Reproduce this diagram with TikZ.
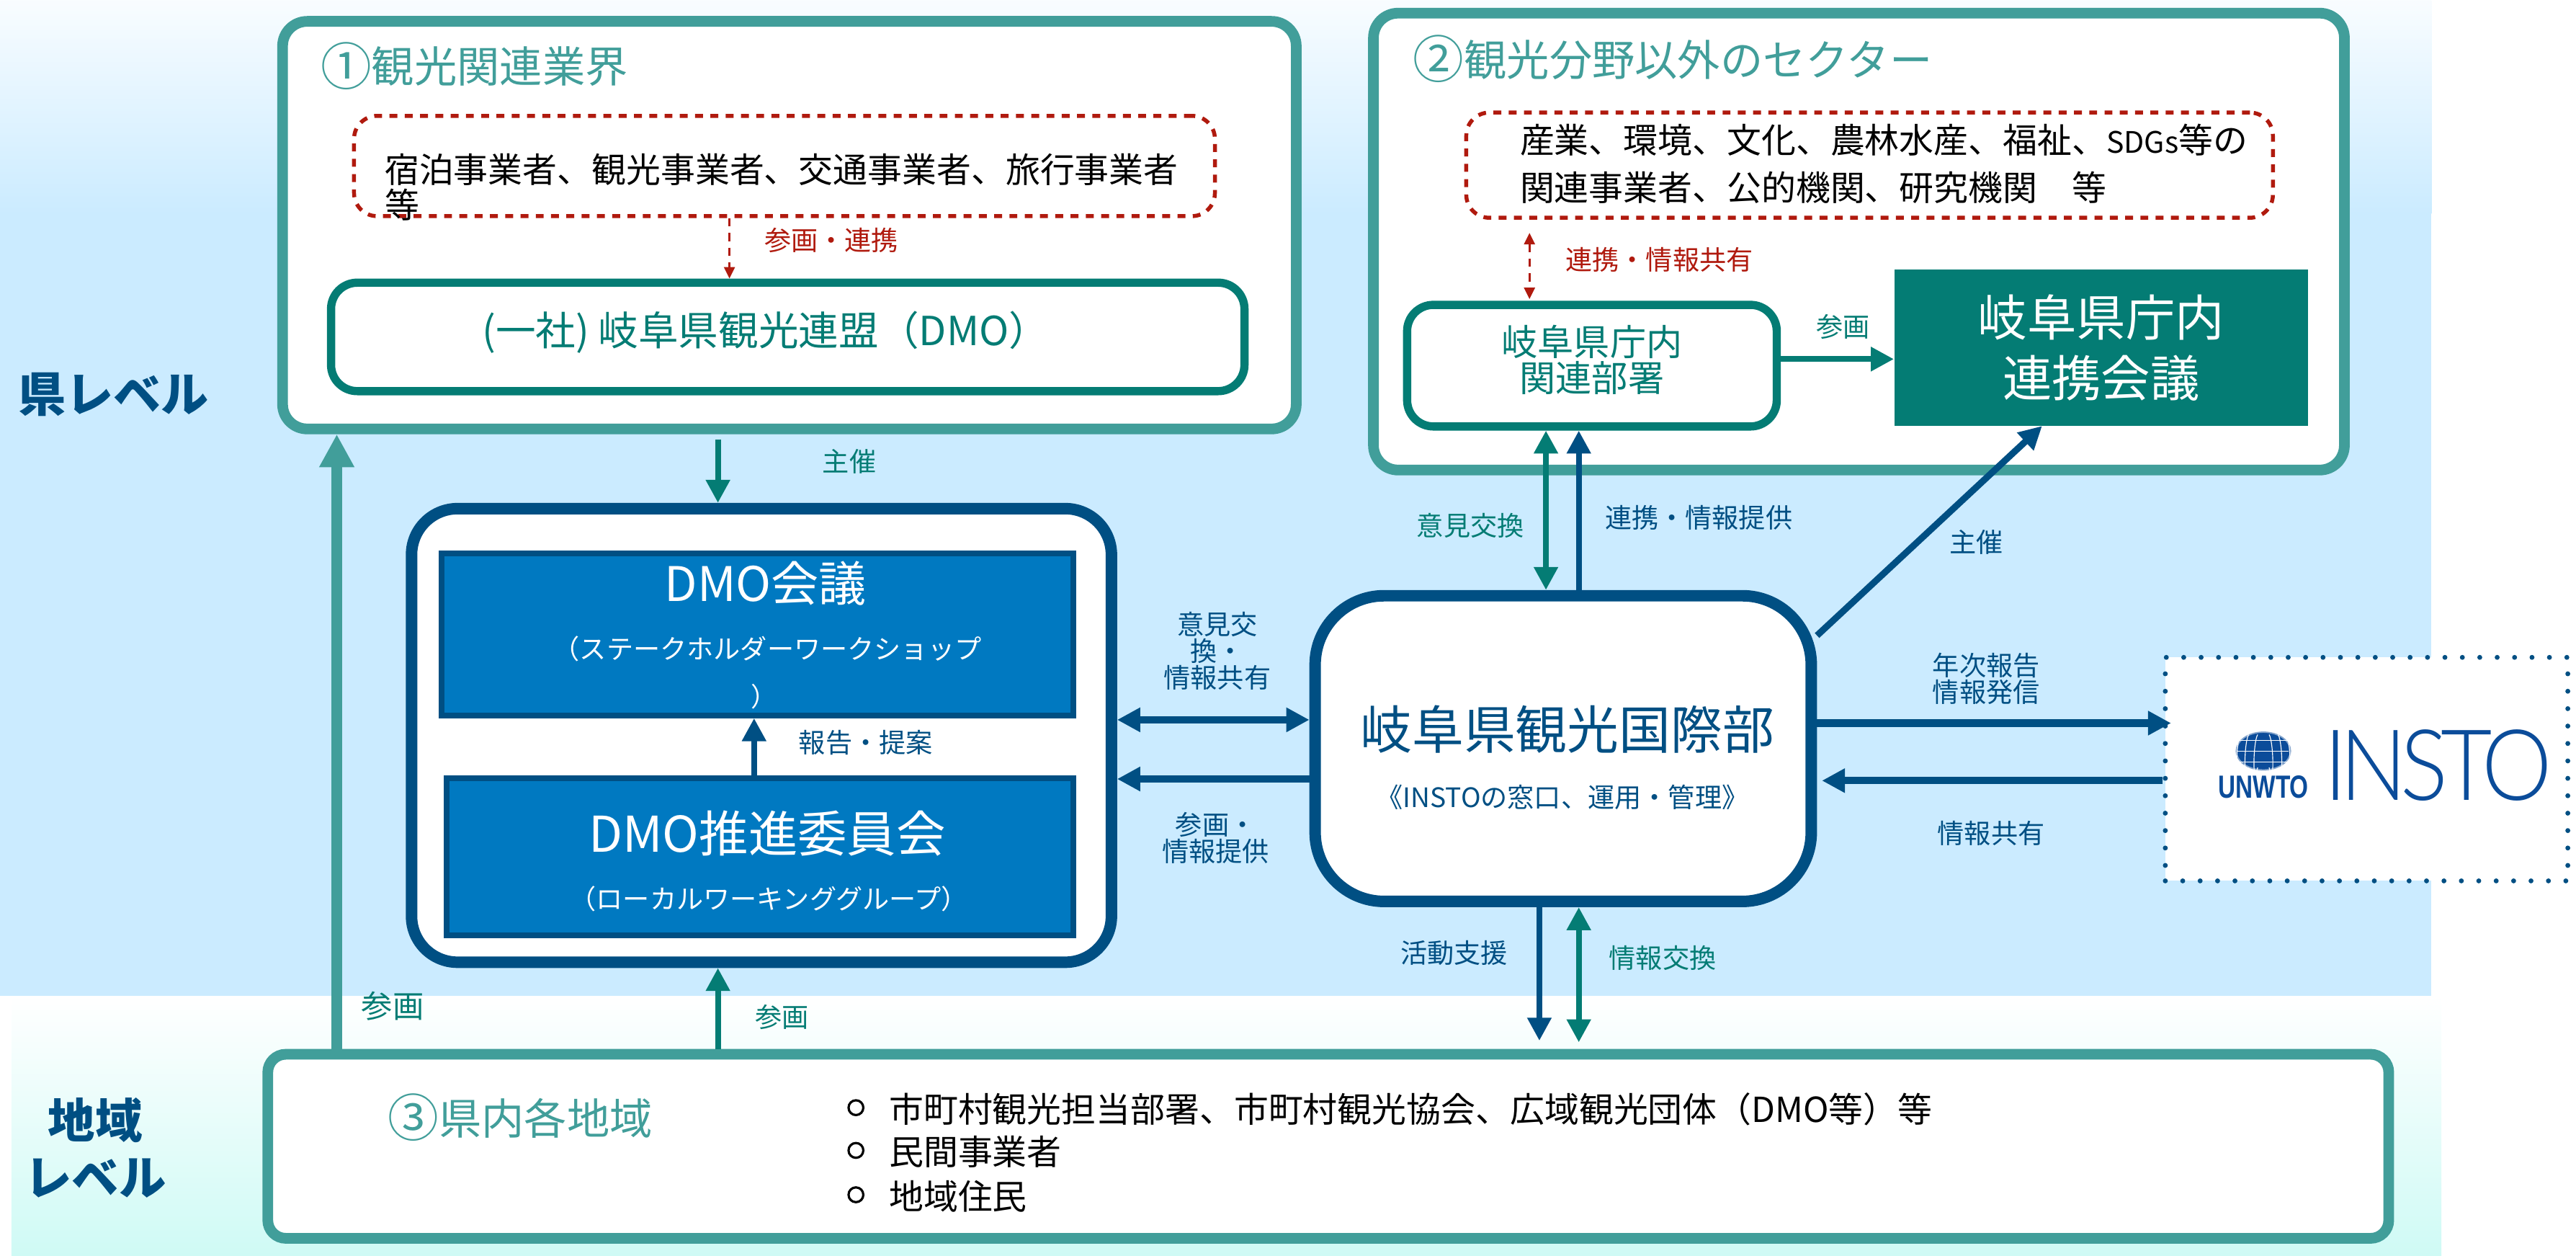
\documentclass[tikz,border=0pt]{standalone}
\usepackage{fontspec}
\setmainfont{Noto Sans CJK JP}
\newfontfamily\logofont{Liberation Sans}
\newfontfamily\thinfont{Lato Light}
\usetikzlibrary{arrows.meta,shapes.geometric}
\definecolor{bandblue}{HTML}{CBEBFF}
\definecolor{bandmint}{HTML}{CFFAF5}
\definecolor{softteal}{HTML}{419E9A}
\definecolor{deepteal}{HTML}{047C74}
\definecolor{navy}{HTML}{004F83}
\definecolor{midblue}{HTML}{0079C1}
\definecolor{darkred}{HTML}{B01A0E}
\definecolor{logoblue}{HTML}{0B4C9A}
\newcommand{\sized}[1]{\fontsize{#1}{#1}\selectfont}
\newcommand{\ringed}[1]{\raisebox{-1.5pt}{\sized{31}#1}}
\tikzset{
  panel/.style={draw=softteal,fill=white,line width=6.5pt,rounded corners=15pt},
  teambox/.style={draw=deepteal,fill=white,line width=5pt,rounded corners=16pt,text=deepteal,align=center},
  hostbox/.style={draw=navy,fill=white,line width=7pt},
  meetbox/.style={draw=navy,fill=midblue,line width=3.5pt},
  partybox/.style={draw=darkred,line width=2.4pt,dash pattern=on 4.8pt off 4.5pt,rounded corners=14pt},
  txt/.style={inner sep=0pt,align=center},
  lbl/.style={txt,font=\sized{16.3}},
  flow/.style={line width=3.6pt,-{Triangle[length=14pt,width=14pt]}},
  bothflow/.style={line width=3.6pt,{Triangle[length=14pt,width=14pt]}-{Triangle[length=14pt,width=14pt]}},
  redflow/.style={draw=darkred,line width=1.4pt,dash pattern=on 5pt off 4pt,-{Triangle[length=7pt,width=6.5pt]}}
}
\begin{document}
\begin{tikzpicture}[x=1pt,y=-1pt]
\useasboundingbox (0,0) rectangle (1568,764);
\shade[top color=bandblue!12!white,bottom color=bandblue] (0,0) rectangle (1480,130);
\fill[bandblue] (0,129.5) rectangle (1480,606);
\shade[top color=white,bottom color=bandmint] (7,606) rectangle (1486,764);

\node[txt,text=navy,font=\bfseries\sized{29}] (prefname) at (69,240) {県レベル};
\node[txt,text=navy,font=\bfseries\sized{28.7}] (areaname) at (58,698.5) {地域\\[6pt]レベル};

\node[panel,minimum width=617,minimum height=248] (tourism) at (480.5,137) {};
\node[txt,anchor=west,text=softteal,font=\sized{26}] (tourismtitle) at (195,40) {\ringed{①}観光関連業界};
\node[partybox,minimum width=524,minimum height=61] (lodging) at (477.5,101) {};
\node[txt,anchor=west,font=\sized{21}] (lodgingtext) at (234,103) {宿泊事業者、観光事業者、交通事業者、旅行事業者};
\node[txt,anchor=west,font=\sized{21}] (lodgingmore) at (234,124.5) {等};
\node[teambox,minimum width=556,minimum height=66] (league) at (479.5,205) {};
\node[txt,text=deepteal,font=\sized{24.4}] (leaguetext) at (466,202) {(一社) 岐阜県観光連盟（DMO）};

\node[panel,minimum width=591,minimum height=278] (others) at (1131.5,147) {};
\node[txt,anchor=west,text=softteal,font=\sized{26}] (otherstitle) at (860,36) {\ringed{②}観光分野以外のセクター};
\node[partybox,minimum width=491,minimum height=64] (sectors) at (1138,100.5) {};
\node[txt,anchor=west,font=\sized{21}] (sectorstext) at (925,85) {産業、環境、文化、農林水産、福祉、{\sized{18}SDGs}等の};
\node[txt,anchor=west,font=\sized{21}] (sectorsmore) at (925,114) {関連事業者、公的機関、研究機関　等};
\node[teambox,minimum width=225,minimum height=74] (offices) at (969,222.5) {};
\node[txt,text=deepteal,font=\sized{22}] (officestext) at (969,219) {岐阜県庁内\\関連部署};
\node[fill=deepteal,text=white,align=center,minimum width=252,minimum height=95,font=\sized{30}] (liaison) at (1279,211.5) {岐阜県庁内\\[7pt]連携会議};

\node[hostbox,rounded corners=28pt,minimum width=426,minimum height=276] (dmohost) at (463.5,447.5) {};
\node[meetbox,minimum width=384.5,minimum height=98.5,anchor=north west] (dmomeet) at (267,335) {};
\node[txt,text=white,font=\sized{29}] (dmomeettitle) at (466,355) {DMO会議};
\node[txt,text=white,font=\sized{16.3}] (dmomeetsub) at (467,395) {（ステークホルダーワークショップ};
\node[txt,text=white,font=\sized{16}] (dmomeetend) at (465,424) {）};
\node[meetbox,minimum width=381.5,minimum height=95.5,anchor=north west] (dmoboard) at (270,472) {};
\node[txt,text=white,font=\sized{30}] (dmoboardtitle) at (467,507) {DMO推進委員会};
\node[txt,text=white,font=\sized{16.3}] (dmoboardsub) at (468,547) {（ローカルワーキンググループ）};

\node[hostbox,rounded corners=42pt,minimum width=302,minimum height=186] (bureau) at (951.5,455.5) {};
\node[txt,text=navy,font=\sized{31.5}] (bureautext) at (954,444) {岐阜県観光国際部};
\node[txt,text=navy,font=\sized{16.3}] (bureausub) at (951,485) {《INSTOの窓口、運用・管理》};

\node[fill=white,draw=navy,line width=3pt,line cap=round,dash pattern=on 0pt off 10.6pt,minimum width=245,minimum height=136] (insto) at (1440.5,468) {};
\node[ellipse,fill=logoblue,draw=logoblue!50,line width=.8pt,minimum width=33,minimum height=23,inner sep=0pt] (globe) at (1377.7,457) {};
\foreach \r in {3.5,9,14}{
  \draw[white,line width=.5pt] (globe.center) ++(-\r,-10) .. controls +(-3,5) and +(-3,15) .. +(0,20);
  \draw[white,line width=.5pt] (globe.center) ++(\r,-10) .. controls +(3,5) and +(3,15) .. +(0,20);
}
\foreach \r in {-6.5,0,6.5}
  \draw[white,line width=.5pt] (1362,457+\r) -- (1393,457+\r);
\node[txt,text=logoblue,font=\logofont\bfseries\sized{19.5}] (unwto) at (1377.7,479) {\addfontfeature{FakeStretch=.75}UNWTO};
\node[txt,text=logoblue,font=\thinfont\sized{60}] (instoname) at (1484,465.5) {\addfontfeature{FakeStretch=.9,LetterSpace=-7}INSTO};

\node[panel,minimum width=1291,minimum height=112,rounded corners=11pt] (region) at (808.5,697.5) {};
\node[txt,anchor=west,text=softteal,font=\sized{26}] (regiontitle) at (236,680) {\ringed{③}県内各地域};
\foreach \y/\t/\n in {675/市町村観光担当部署、市町村観光協会、広域観光団体（DMO等）等/a,701/民間事業者/b,728/地域住民/c}{
  \node[circle,draw,line width=1.4pt,minimum size=9pt,inner sep=0pt] (dot\n) at (521,\y-1) {};
  \node[txt,anchor=west,font=\sized{21}] (item\n) at (541,\y) {\t};
}

\coordinate (railjoin) at (205,0);
\coordinate (railhost) at (437,0);
\coordinate (railboard) at (459,0);
\coordinate (railred) at (444,0);
\coordinate (railsect) at (931,0);
\coordinate (railopin) at (941,0);
\coordinate (railinfo) at (961,0);
\coordinate (railsupp) at (937,0);
\coordinate (railmeet) at (1243,0);
\coordinate (rowtwo) at (0,438);
\coordinate (rowplan) at (0,474);
\coordinate (rowrep) at (0,440);
\coordinate (rowback) at (0,475);
\coordinate (roworg) at (0,218.5);

\draw[redflow] (railred |- lodging.south) -- (railred |- league.north);
\draw[redflow,{Triangle[length=7pt,width=6.5pt]}-{Triangle[length=7pt,width=6.5pt]}] ([yshift=-8pt]railsect |- sectors.south) -- ([yshift=1pt]railsect |- offices.north);
\draw[flow,draw=deepteal] (offices.east |- roworg) -- (liaison.west |- roworg);
\draw[flow,draw=deepteal] ([yshift=-3pt]railhost |- tourism.south) -- (railhost |- dmohost.north);
\draw[flow,draw=softteal,line width=6.5pt,-{Triangle[length=20pt,width=20pt]}] (railjoin |- region.north) -- (railjoin |- tourism.south);
\draw[flow,draw=deepteal] (railhost |- region.north) -- (railhost |- dmohost.south);
\draw[flow,draw=navy] (railboard |- dmoboard.north) -- (railboard |- dmomeet.south);
\draw[flow,draw=navy] (railinfo |- bureau.north) -- (railinfo |- offices.south);
\draw[bothflow,draw=deepteal] (railopin |- bureau.north) -- (railopin |- offices.south);
\draw[flow,draw=navy,line width=4pt] (bureau.24) -- (railmeet |- liaison.south);
\draw[bothflow,draw=navy,line width=4.5pt] (dmohost.east |- rowtwo) -- (bureau.west |- rowtwo);
\draw[flow,draw=navy,line width=4.5pt] (bureau.west |- rowplan) -- (dmohost.east |- rowplan);
\draw[flow,draw=navy,line width=4.5pt] (bureau.east |- rowrep) -- ([xshift=5pt]insto.west |- rowrep);
\draw[flow,draw=navy,line width=4.5pt] (insto.west |- rowback) -- ([xshift=3pt]bureau.east |- rowback);
\draw[flow,draw=navy] (railsupp |- bureau.south) -- ([yshift=5pt]railsupp |- region.north);
\draw[bothflow,draw=deepteal] (railinfo |- bureau.south) -- ([yshift=4pt]railinfo |- region.north);

\node[lbl,text=darkred] (tagjoin) at (506,146) {参画・連携};
\node[lbl,text=darkred] (tagshare) at (1010,158) {連携・情報共有};
\node[lbl,text=deepteal] (tagplan) at (1122,199) {参画};
\node[lbl,text=deepteal] (taghost) at (517,281) {主催};
\node[lbl,text=deepteal] (tagopin) at (895,320) {意見交換};
\node[lbl,text=navy] (taglink) at (1034,315) {連携・情報提供};
\node[lbl,text=navy] (tagmeet) at (1203,330) {主催};
\node[lbl,text=navy] (tagswap) at (741,396) {意見交\\換・\\情報共有};
\node[lbl,text=navy] (tagback) at (740,510) {参画・\\情報提供};
\node[lbl,text=navy] (tagreport) at (527,452) {報告・提案};
\node[lbl,text=navy] (tagannual) at (1209,413) {年次報告\\情報発信};
\node[lbl,text=navy] (taginfo) at (1212,507) {情報共有};
\node[lbl,text=navy] (tagsupp) at (885,580) {活動支援};
\node[lbl,text=deepteal] (tagswaptwo) at (1012,583) {情報交換};
\node[txt,text=deepteal,font=\sized{19}] (tagjoinbig) at (239,612) {参画};
\node[lbl,text=deepteal] (tagjointwo) at (476,619) {参画};
\end{tikzpicture}
\end{document}
